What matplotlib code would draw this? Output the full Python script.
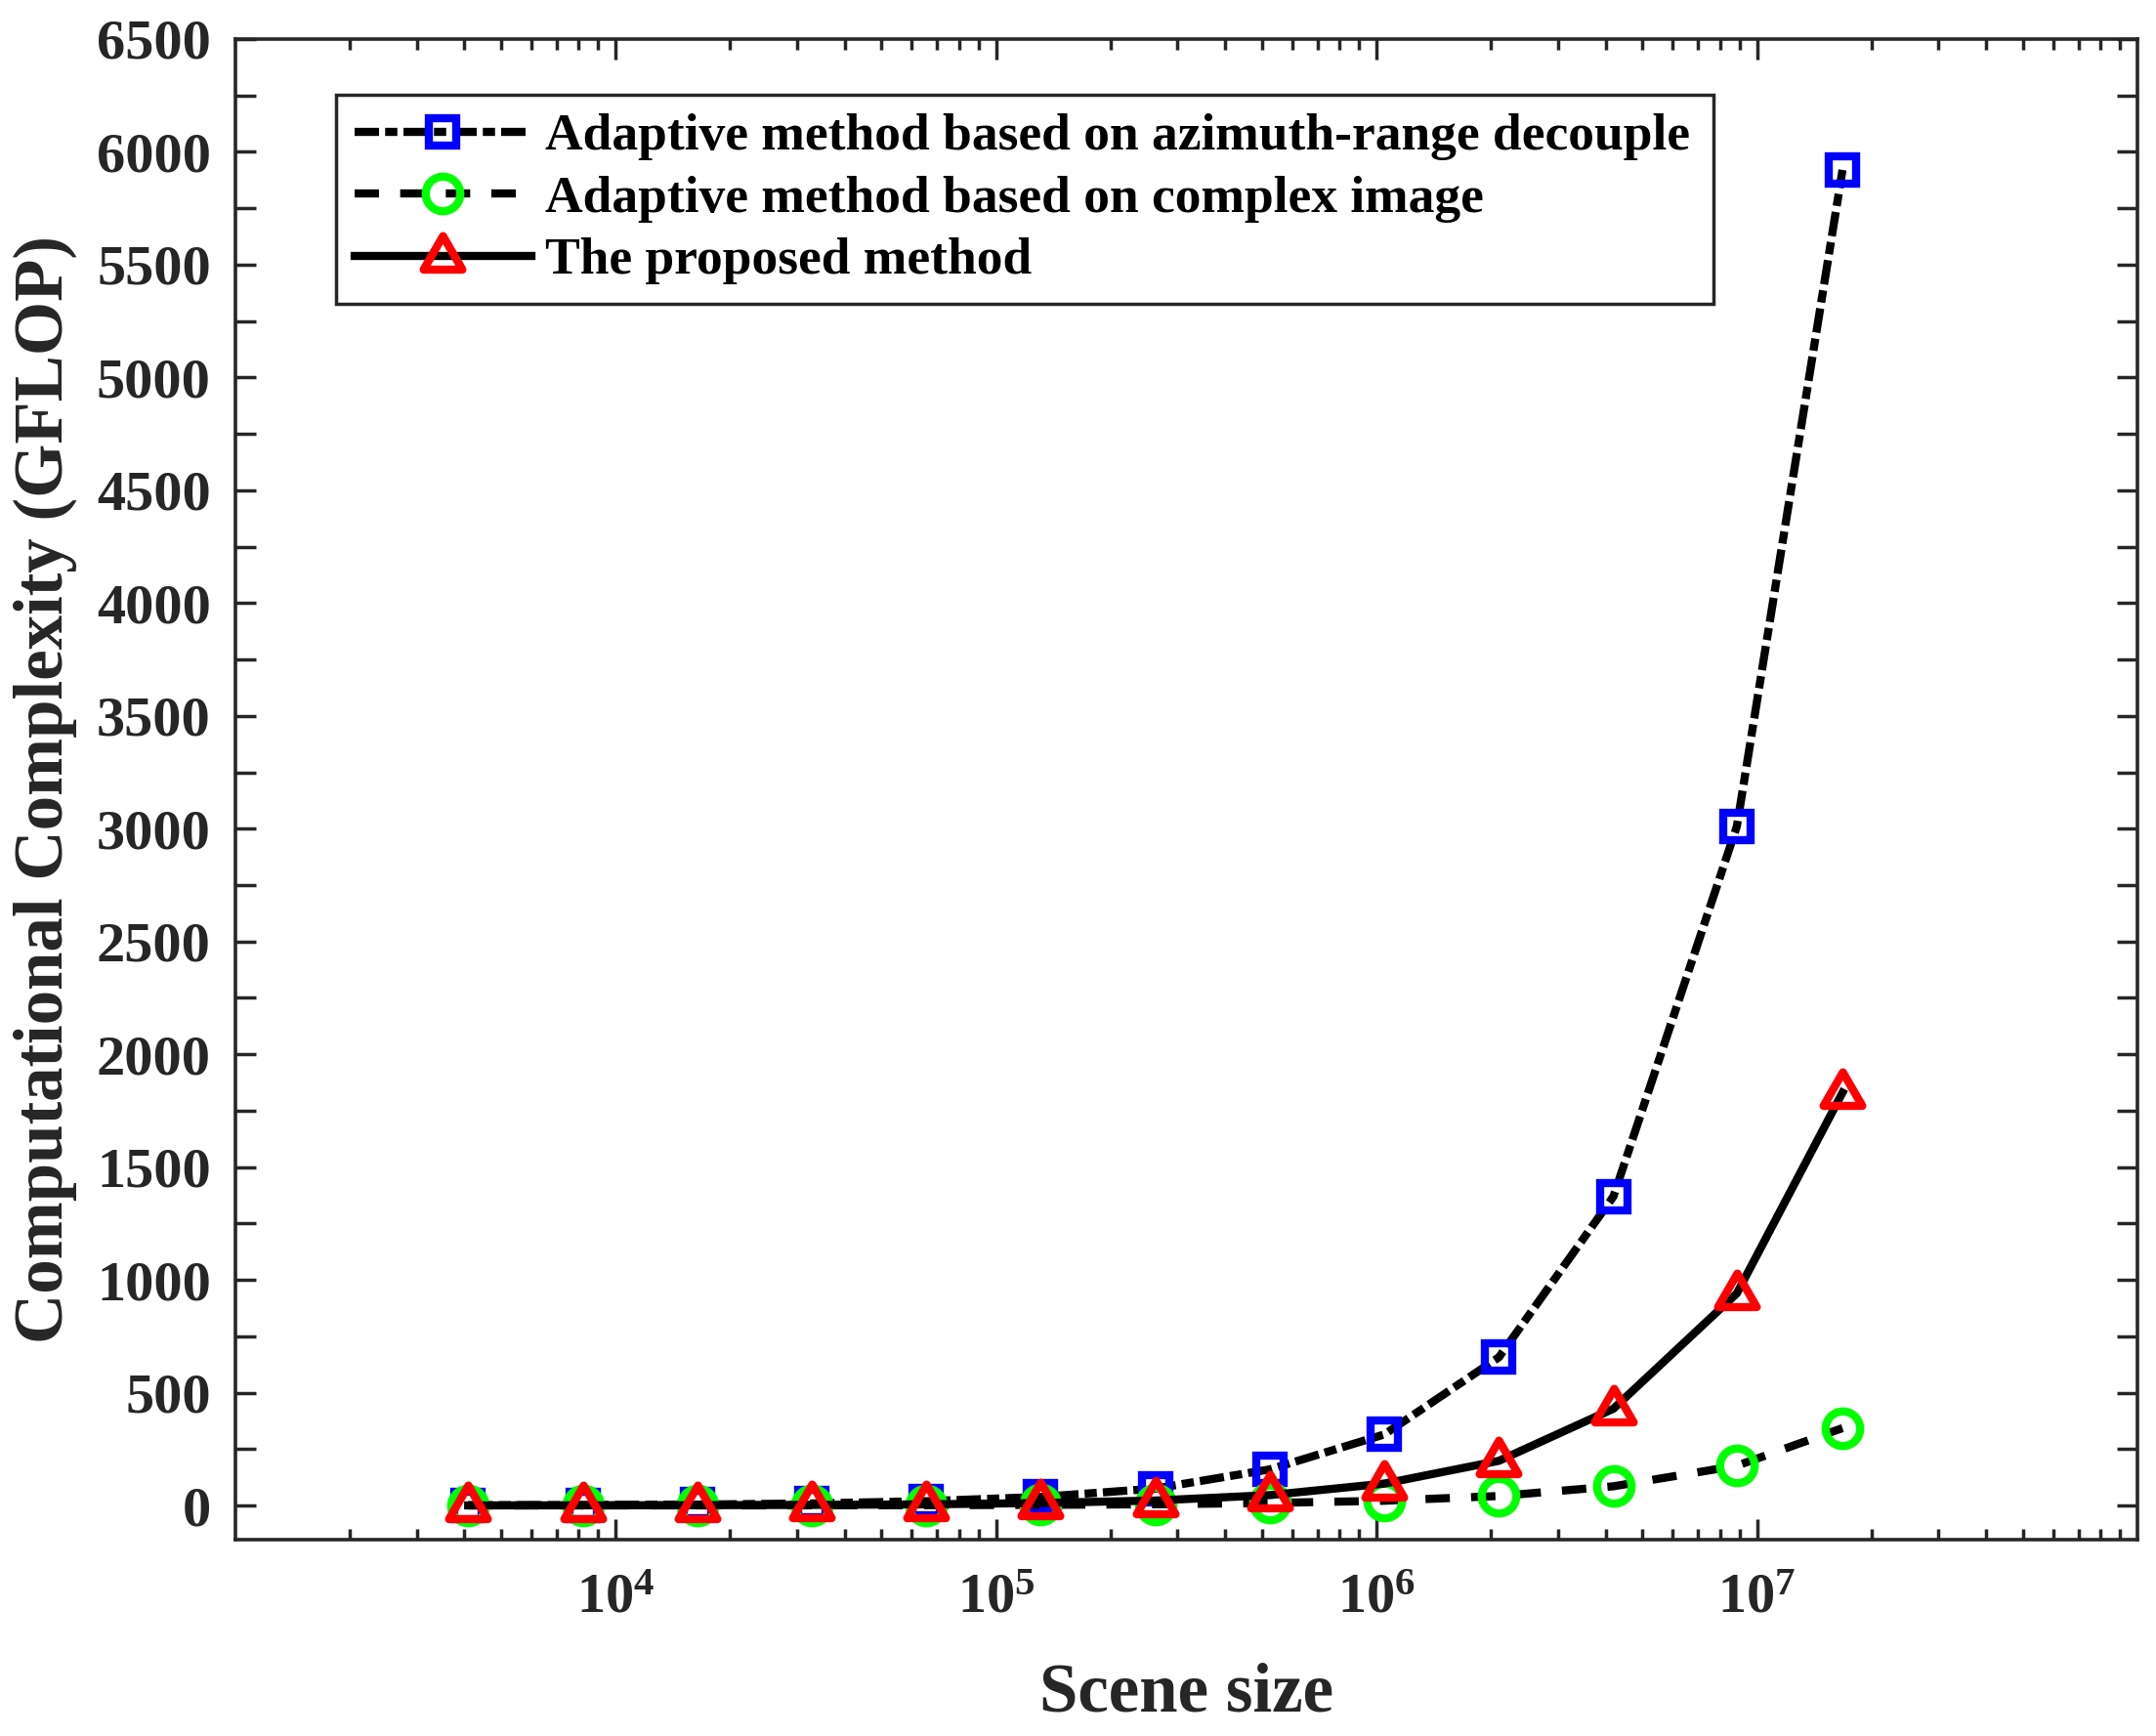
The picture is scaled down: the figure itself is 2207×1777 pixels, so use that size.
import matplotlib
matplotlib.use("Agg")
import matplotlib.pyplot as plt
import numpy as np
from matplotlib.path import Path
from matplotlib.markers import MarkerStyle
from matplotlib.ticker import FixedLocator, FuncFormatter, LogLocator, NullFormatter

plt.rcParams['font.family'] = ['Liberation Serif', 'DejaVu Serif']
plt.rcParams['font.weight'] = 'bold'
plt.rcParams['mathtext.fontset'] = 'custom'
plt.rcParams['mathtext.rm'] = 'Liberation Serif:bold'
plt.rcParams['mathtext.it'] = 'Liberation Serif:bold:italic'
plt.rcParams['mathtext.bf'] = 'Liberation Serif:bold'

# scene sizes
scene_size = [4096, 8192, 16384, 32768, 65536, 131072, 262144, 524288,
              1048576, 2097152, 4194304, 8850000, 16777216]

# GFLOP
decouple = [1, 2, 4, 9, 19, 38, 75, 160, 315, 657, 1370, 3010, 5920]
complex_img = [0.1, 0.2, 0.3, 0.7, 1.3, 2.7, 5.4, 11, 21, 42, 85, 176, 343]
proposed = [0.3, 0.6, 1.2, 2.5, 5, 11, 22, 46, 97, 198, 429, 940, 1830]

labels = ['Adaptive method based on azimuth-range decouple',
          'Adaptive method based on complex image',
          'The proposed method']

axcol = '#262626'

# matlab style triangle (wider than tall, centre below the middle)
tri = Path([(-1, -0.68), (1, -0.68), (0, 1.05), (-1, -0.68)],
           [Path.MOVETO, Path.LINETO, Path.LINETO, Path.CLOSEPOLY])
tri_marker = MarkerStyle(tri, joinstyle='miter')

fig = plt.figure(figsize=(22.07, 17.77), dpi=100)
ax = fig.add_axes([0.1091, 0.1133, 0.8823, 0.8642])

lw = 6.0
mew = 6.0
ax.plot(scene_size, decouple, color='k', lw=lw, dashes=(3.0, 0.75, 1.5, 0.75),
        marker='s', ms=20.5, mew=mew, mec=(0, 0, 1), mfc='none', label=labels[0])
ax.plot(scene_size, complex_img, color='k', lw=lw, dashes=(3.0, 2.6),
        marker='o', ms=25.5, mew=mew, mec=(0, 1, 0), mfc='none', label=labels[1])
ax.plot(scene_size, proposed, color='k', lw=lw, ls='-',
        marker=tri_marker, ms=30, mew=mew, mec=(1, 0, 0), mfc='none', label=labels[2])

ax.set_xscale('log')
ax.set_xlim(1e3, 1e8)
ax.set_ylim(-150, 6500)

ax.xaxis.set_major_locator(FixedLocator([1e4, 1e5, 1e6, 1e7]))
ax.xaxis.set_major_formatter(FuncFormatter(lambda v, p: r'$\mathregular{10^{%d}}$' % round(np.log10(v))))
ax.xaxis.set_minor_locator(LogLocator(base=10, subs=np.arange(2, 10), numticks=20))
ax.xaxis.set_minor_formatter(NullFormatter())

ax.yaxis.set_major_locator(FixedLocator(np.arange(0, 6501, 250)))
ax.yaxis.set_major_formatter(FuncFormatter(lambda v, p: '%d' % v if v % 500 == 0 else ''))

ax.tick_params(axis='both', which='both', direction='in', top=True, right=True,
               colors=axcol, width=2.5)
ax.tick_params(axis='x', which='major', length=15, pad=25, labelsize=42)
ax.tick_params(axis='x', which='minor', length=8)
ax.tick_params(axis='y', which='major', length=15, pad=18, labelsize=42)
for sp in ax.spines.values():
    sp.set_linewidth(2.6)
    sp.set_color(axcol)

ax.set_xlabel('Scene size', fontsize=51, fontweight='bold', color=axcol)
ax.set_ylabel('Computational Complexity (GFLOP)', fontsize=51, fontweight='bold', color=axcol)
ax.xaxis.set_label_coords(0.5, -0.103)
ax.xaxis.label.set_va('center')
ax.yaxis.set_label_coords(-0.1, 0.5)
ax.yaxis.label.set_va('center')

leg = ax.legend(loc='upper left', bbox_to_anchor=(0.0529, 0.828, 0.724, 0.135),
                mode='expand', borderaxespad=0, fancybox=False, framealpha=1,
                edgecolor=axcol, fontsize=38.5, handlelength=3.38, handletextpad=0.26,
                borderpad=0.36, labelspacing=0.28)
leg.get_frame().set_linewidth(2.5)
for t in leg.get_texts():
    t.set_color('k')

fig.savefig('out.png', dpi=100, facecolor='white')
